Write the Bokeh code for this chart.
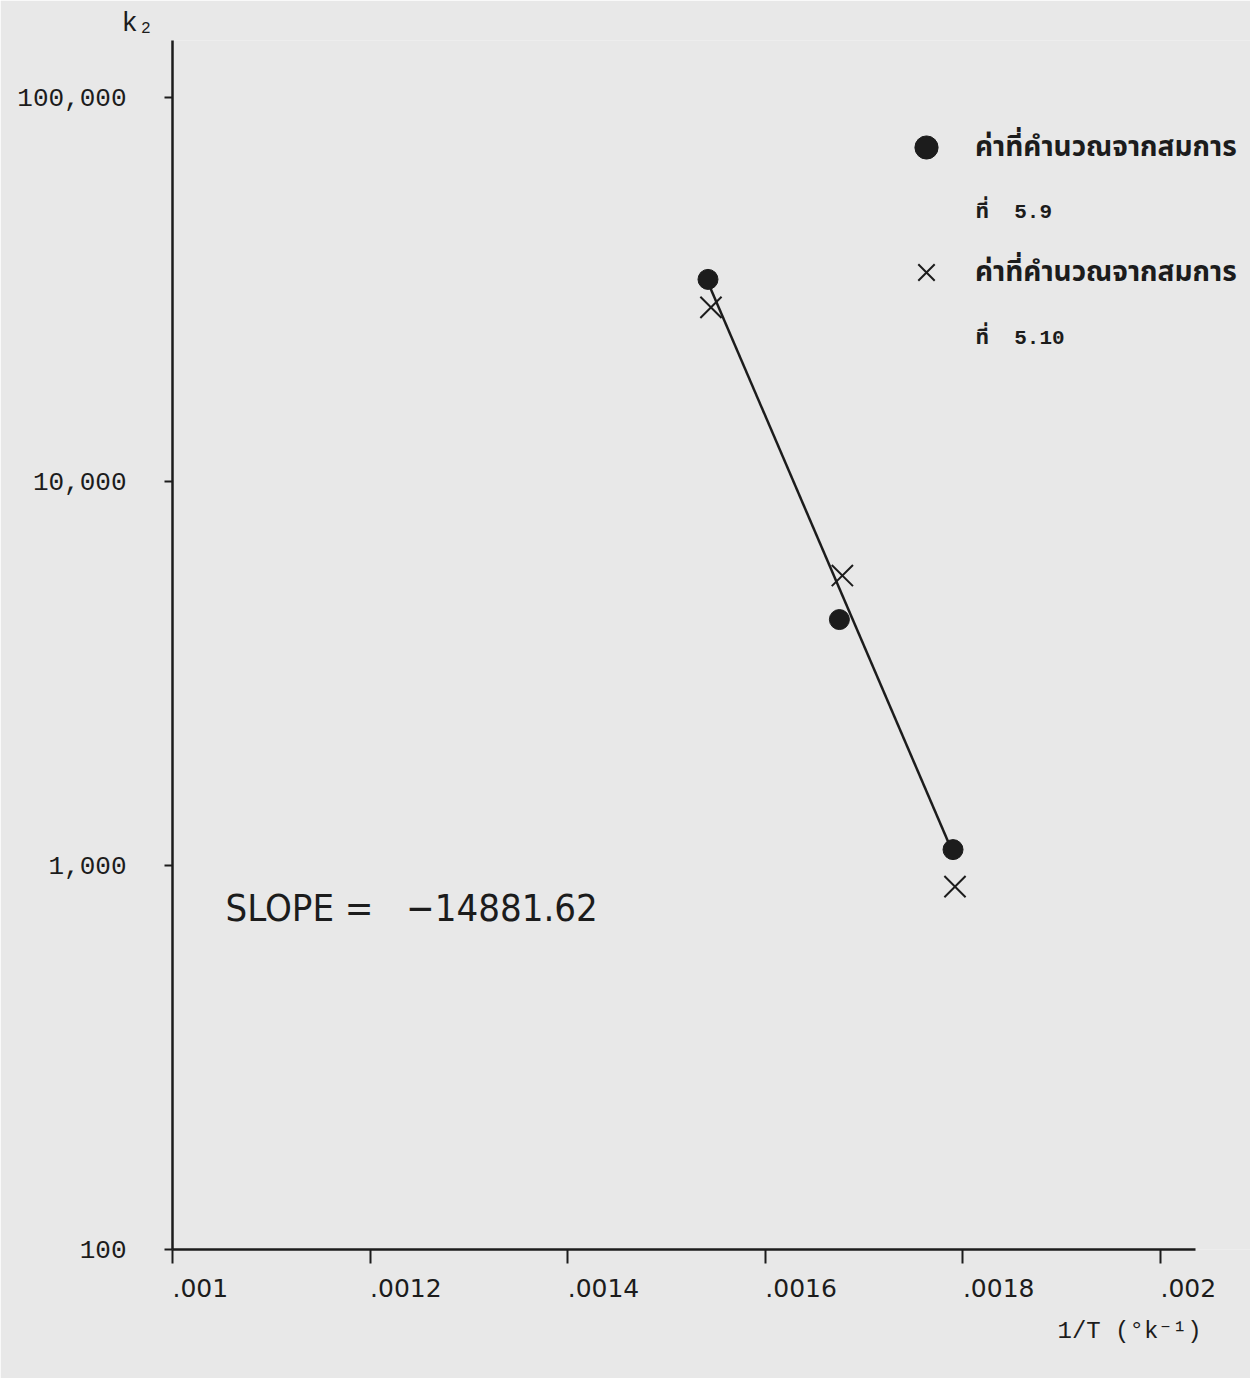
import math
from bokeh.plotting import figure
from bokeh.models import FixedTicker, Label, Legend, LegendItem, Title
from bokeh.embed import file_html
from bokeh.resources import INLINE

# ---------------- data ----------------
inv_T_eq59 = [0.001542, 0.001675, 0.001790]
k2_eq59 = [33600, 4370, 1100]
inv_T_eq510 = [0.001545, 0.001678, 0.001792]
k2_eq510 = [28400, 5690, 881]
fit_inv_T = [0.001542, 0.001788]
fit_k2 = [33000, 1107]

x_ticks = [0.001, 0.0012, 0.0014, 0.0016, 0.0018, 0.002]
x_tick_labels = [".001", ".0012", ".0014", ".0016", ".0018", ".002"]
y_ticks = [100, 1000, 10000, 100000]
y_tick_labels = ["100", "1,000", "10,000", "100,000"]
legend_line1 = ["ค่าที่คำนวณจากสมการ", "ค่าที่คำนวณจากสมการ"]
legend_line2 = ["ที่\u00a0\u00a05.9", "ที่\u00a0\u00a05.10"]
slope_text = "SLOPE = \u00a0\u00a0\u221214881.62"
y_title = "k\u2082"
x_title = "1/T (\u00b0k\u207b\u00b9)"

# ---------------- layout ----------------
W, H = 1250, 1378
FRAME_L, AXIS_R = 172, 1195
FRAME_T, FRAME_B = 40, 1249
PX_PER_X = 988 / 0.001
PX_PER_DEC = 384
X0 = 0.001
X1 = X0 + (W - FRAME_L) / PX_PER_X
X_AXIS_END = X0 + (AXIS_R - FRAME_L) / PX_PER_X
Y0 = 100
Y1 = 10 ** (2 + (FRAME_B - FRAME_T) / PX_PER_DEC)

def px2x(px):
    return X0 + (px - FRAME_L) / PX_PER_X

def py2y(py):
    return 10 ** (2 + (FRAME_B - py) / PX_PER_DEC)

BG = "#e8e8e8"
INK = "#1c1c1c"
MONO = "Liberation Mono, Courier New, monospace"
SANS = "DejaVu Sans, Verdana, sans-serif"
THAI = "Liberation Mono, Noto Sans Thai, Noto Serif Thai, Loma, Garuda, sans-serif"

p = figure(width=W, height=H, x_range=(X0, X1), y_range=(Y0, Y1),
           y_axis_type="log", output_backend="svg", toolbar_location=None,
           min_border_left=FRAME_L, min_border_right=0,
           min_border_top=FRAME_T, min_border_bottom=H - FRAME_B)
p.background_fill_color = BG
p.border_fill_color = BG
p.outline_line_color = None
p.grid.visible = False

# x axis
p.xaxis.bounds = (X0, X_AXIS_END)
p.xaxis.ticker = FixedTicker(ticks=x_ticks, minor_ticks=[])
pad = lambda s: "".join("\u2007" if c.isdigit() else "\u2008" for c in s)
p.xaxis.major_label_overrides = {t: pad(l) + l for t, l in zip(x_ticks, x_tick_labels)}
p.xaxis.axis_line_color = INK
p.xaxis.axis_line_width = 2.5
p.xaxis.major_tick_line_color = INK
p.xaxis.major_tick_line_width = 2
p.xaxis.major_tick_out = 14
p.xaxis.major_tick_in = 0
p.xaxis.minor_tick_line_color = None
p.xaxis.major_label_standoff = 10
p.xaxis.major_label_text_font = SANS
p.xaxis.major_label_text_font_size = "25px"
p.xaxis.major_label_text_color = INK

# y axis
p.yaxis.ticker = FixedTicker(ticks=y_ticks, minor_ticks=[])
p.yaxis.major_label_overrides = {t: l for t, l in zip(y_ticks, y_tick_labels)}
p.yaxis.axis_line_color = INK
p.yaxis.axis_line_width = 2.5
p.yaxis.major_tick_line_color = INK
p.yaxis.major_tick_line_width = 2
p.yaxis.major_tick_out = 8
p.yaxis.major_tick_in = 0
p.yaxis.minor_tick_line_color = None
p.yaxis.major_label_standoff = 38
p.yaxis.major_label_text_font = MONO
p.yaxis.major_label_text_font_size = "26px"
p.yaxis.major_label_text_color = INK

# axis titles
p.add_layout(Title(text=y_title, align="left", offset=121 - FRAME_L, standoff=4,
                   text_font=MONO, text_font_size="27px", text_font_style="normal",
                   text_color=INK), "above")
p.add_layout(Title(text=x_title, align="left", offset=1057 - FRAME_L, standoff=20,
                   text_font=MONO, text_font_size="24px", text_font_style="normal",
                   text_color=INK), "below")

# fitted line and points
p.line(fit_inv_T, fit_k2, line_color=INK, line_width=2.5)
r59 = p.scatter(inv_T_eq59, k2_eq59, marker="circle", size=20, fill_color=INK, line_color=INK)
r510 = p.scatter(inv_T_eq510, k2_eq510, marker="x", size=30, line_color=INK, line_width=2)

# legend
G = 58
leg = Legend(items=[LegendItem(label=legend_line1[0], renderers=[r59]),
                    LegendItem(label=legend_line1[1], renderers=[r510])],
             location=(926 - G // 2 - FRAME_L, FRAME_B - (147 - G // 2 + 2 * G + 67)),
             glyph_width=G, glyph_height=G, label_height=G, spacing=67,
             label_standoff=975 - (926 - G // 2 + G), padding=0, margin=0,
             border_line_color=None, background_fill_alpha=0,
             label_text_font=THAI, label_text_font_size="28px",
             label_text_font_style="bold", label_text_color=INK)
p.add_layout(leg)
for py, txt in zip([212, 338], legend_line2):
    p.add_layout(Label(x=px2x(975), y=py2y(py), text=txt, text_align="left",
                       text_baseline="middle", text_font=THAI, text_font_size="21px",
                       text_font_style="bold", text_color=INK))

# slope annotation
p.add_layout(Label(x=px2x(225), y=py2y(907), text=slope_text, text_align="left",
                   text_baseline="middle",
                   text_font="Liberation Sans Narrow, DejaVu Sans Condensed, sans-serif",
                   text_font_size="38px", text_color=INK))

open("out.html", "w").write(file_html(p, INLINE))
